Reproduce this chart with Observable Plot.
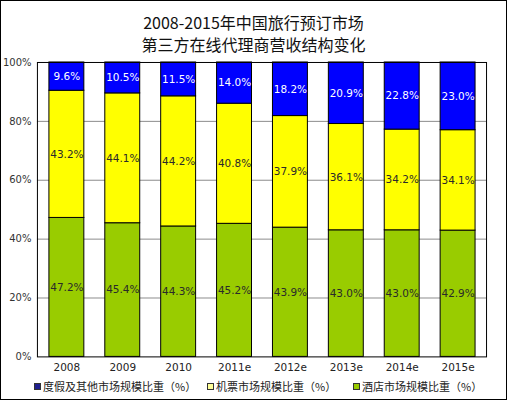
<!DOCTYPE html>
<html><head><meta charset="utf-8">
<script src="https://cdn.jsdelivr.net/npm/d3@7"></script>
<script src="https://cdn.jsdelivr.net/npm/@observablehq/plot@0.6"></script>
<style>
body{margin:0;background:#fff;}
#wrap{position:relative;width:507px;height:400px;box-sizing:border-box;border:1px solid #000;overflow:hidden;background:#fff}
#title{position:absolute;left:0;top:10px;width:100%;text-align:center;font-family:"Noto Sans CJK SC",sans-serif;font-size:16px;line-height:22px;color:#111}
#chart{position:absolute;left:-1px;top:51px}
.lg{position:absolute;top:377px;font-family:"Noto Sans CJK SC",sans-serif;font-size:11px;color:#222;white-space:nowrap}
.sw{display:inline-block;width:5px;height:5px;margin-right:2px;vertical-align:1px;border:1px solid #333}
</style></head>
<body>
<div id="wrap">
  <div id="title">2008-2015年中国旅行预订市场<br>第三方在线代理商营收结构变化</div>
  <div id="chart"></div>
  <div id="legend"></div>
</div>
<script>
const years = ["2008","2009","2010","2011e","2012e","2013e","2014e","2015e"];
const seriesNames = ["酒店市场规模比重（%）","机票市场规模比重（%）","度假及其他市场规模比重（%）"];
const hotel    = [47.2, 45.4, 44.3, 45.2, 43.9, 43.0, 43.0, 42.9];
const flight   = [43.2, 44.1, 44.2, 40.8, 37.9, 36.1, 34.2, 34.1];
const vacation = [9.6, 10.5, 11.5, 14.0, 18.2, 20.9, 22.8, 23.0];
const colors = ["#99CC00", "#FFFF00", "#0000FF"];
const yTicks = [0, 20, 40, 60, 80, 100];
const gridTicks = [20, 40, 60, 80];

const valuesBySeries = [hotel, flight, vacation];
const data = [];
years.forEach((y, i) => {
  seriesNames.forEach((s, j) => data.push({year: y, series: s, value: valuesBySeries[j][i]}));
});

const fmt = v => v.toFixed(1) + "%";
const chart = Plot.plot({
  width: 507, height: 323,
  marginTop: 10, marginBottom: 18, marginLeft: 37, marginRight: 20,
  style: {fontFamily: "'DejaVu Sans', sans-serif", fontSize: "10px", color: "#222", background: "transparent"},
  x: {domain: years, paddingInner: 0.38, paddingOuter: 0.2, label: null},
  y: {domain: [0, 100], label: null},
  color: {domain: seriesNames, range: colors},
  marks: [
    Plot.ruleY(gridTicks, {stroke: "#8c8c8c", strokeWidth: 1}),
    Plot.barY(data, {x: "year", y: "value", fill: "series", order: seriesNames, stroke: "#000", strokeWidth: 1}),
    Plot.text(data, Plot.stackY({x: "year", y: "value", z: "series", order: seriesNames,
      text: d => d.series === seriesNames[2] ? null : fmt(d.value), fill: "#2a2a2a", fontSize: 10.5})),
    Plot.text(data, Plot.stackY({x: "year", y: "value", z: "series", order: seriesNames,
      text: d => d.series === seriesNames[2] ? fmt(d.value) : null, fill: "#fff", fontSize: 10.5})),
    Plot.frame({stroke: "#000", strokeWidth: 1}),
    Plot.axisY(yTicks, {tickSize: 0, tickPadding: 6, tickFormat: d => d + "%", fontSize: 10, fill: "#333"}),
    Plot.axisX({tickSize: 0, tickPadding: 7, fontSize: 10.5, fill: "#222"})
  ]
});
document.getElementById("chart").appendChild(chart);

const legendOrder = [2, 1, 0];
const legendX = [33, 206, 352];
const swatchColors = ["#1f1f8f", "#FFFF99", "#99CC00"];
const legend = document.getElementById("legend");
legendOrder.forEach((j, k) => {
  const el = document.createElement("div");
  el.className = "lg";
  el.style.left = legendX[k] + "px";
  const sw = document.createElement("span");
  sw.className = "sw";
  sw.style.background = swatchColors[k];
  el.appendChild(sw);
  el.appendChild(document.createTextNode(seriesNames[j]));
  legend.appendChild(el);
});
</script>
</body></html>
